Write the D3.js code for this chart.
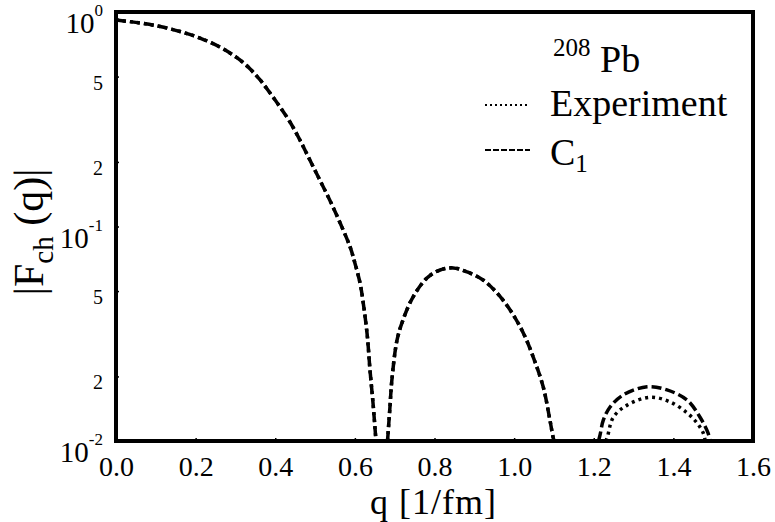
<!DOCTYPE html>
<html>
<head>
<meta charset="utf-8">
<script src="https://cdn.jsdelivr.net/npm/d3@7"></script>
<style>
  body { margin: 0; background: #fff; }
  svg { display: block; }
  svg text {
    font-family: "Liberation Serif", "DejaVu Serif", "Times New Roman", Times, serif !important;
    fill: #000;
  }
</style>
</head>
<body>
<svg id="chart" width="775" height="522"></svg>
<script>
// Charge form factor |F_ch(q)| of 208Pb: experiment vs. C1 calculation
const xTicks = [0.0, 0.2, 0.4, 0.6, 0.8, 1.0, 1.2, 1.4, 1.6];
const xTickLabels = ["0.0", "0.2", "0.4", "0.6", "0.8", "1.0", "1.2", "1.4", "1.6"];
const yDecades = [0.01, 0.1, 1];
const yDecadeExponents = ["-2", "-1", "0"];
const yMinorTicks = [0.02, 0.05, 0.2, 0.5];
const yMinorLabels = ["2", "5", "2", "5"];

// C1 model; null marks the diffraction minima (below the plotted range)
const qC1 = [0.000, 0.060, 0.111, 0.161, 0.211, 0.261, 0.286, 0.312, 0.337, 0.362, 0.387, 0.412, 0.437, 0.462, 0.487,
             0.512, 0.538, 0.563, 0.588, 0.600, 0.613, 0.620, 0.631, 0.638, 0.646, 0.653,
             0.667,
             0.682, 0.688, 0.693, 0.706, 0.721, 0.746, 0.781, 0.814, 0.847, 0.882, 0.922, 0.957, 0.990, 1.023, 1.048, 1.073, 1.090, 1.098, 1.101,
             1.155,
             1.212, 1.216, 1.224, 1.241, 1.274, 1.334, 1.384, 1.435, 1.467, 1.487, 1.492];
const fC1 = [0.918, 0.889, 0.856, 0.811, 0.756, 0.687, 0.644, 0.597, 0.542, 0.482, 0.419, 0.361, 0.307, 0.253, 0.204,
             0.1647, 0.1315, 0.1038, 0.0803, 0.0676, 0.0545, 0.0454, 0.0312, 0.0214, 0.0147, 0.0100,
             null,
             0.0100, 0.0143, 0.0193, 0.0296, 0.0367, 0.0469, 0.0575, 0.0627, 0.0641, 0.0614, 0.0563, 0.0490, 0.0408, 0.0319, 0.0246, 0.0179, 0.0125, 0.0104, 0.0100,
             null,
             0.0100, 0.0107, 0.0125, 0.0144, 0.0164, 0.0179, 0.0173, 0.0155, 0.0129, 0.0109, 0.0100];

// Experimental form factor
const qExp = [0.000, 0.060, 0.111, 0.161, 0.211, 0.261, 0.286, 0.312, 0.337, 0.362, 0.387, 0.412, 0.437, 0.462, 0.487,
              0.512, 0.538, 0.563, 0.588, 0.600, 0.613, 0.620, 0.631, 0.638, 0.646, 0.653,
              0.667,
              0.682, 0.688, 0.693, 0.706, 0.721, 0.746, 0.781, 0.814, 0.847, 0.882, 0.922, 0.957, 0.990, 1.023, 1.048, 1.073, 1.090, 1.098, 1.101,
              1.165,
              1.230, 1.234, 1.249, 1.284, 1.342, 1.392, 1.435, 1.460, 1.475, 1.480];
const fExp = [0.918, 0.889, 0.856, 0.811, 0.756, 0.687, 0.644, 0.597, 0.542, 0.482, 0.419, 0.361, 0.307, 0.253, 0.204,
              0.1647, 0.1315, 0.1038, 0.0803, 0.0676, 0.0545, 0.0454, 0.0312, 0.0214, 0.0147, 0.0100,
              null,
              0.0100, 0.0143, 0.0193, 0.0296, 0.0367, 0.0469, 0.0575, 0.0627, 0.0641, 0.0614, 0.0563, 0.0490, 0.0408, 0.0319, 0.0246, 0.0179, 0.0125, 0.0104, 0.0100,
              null,
              0.0100, 0.0104, 0.0129, 0.0147, 0.0160, 0.0152, 0.0135, 0.0121, 0.0109, 0.0100];

const svg = d3.select("#chart");
const plot = { left: 116, top: 12, right: 753, bottom: 441 };

const x = d3.scaleLinear().domain([0, 1.6]).range([plot.left, plot.right]);
const y = d3.scaleLog().domain([0.01, 1]).range([plot.bottom, plot.top]);

svg.append("defs").append("clipPath").attr("id", "plot-clip")
  .append("rect")
  .attr("x", plot.left).attr("y", plot.top)
  .attr("width", plot.right - plot.left).attr("height", plot.bottom - plot.top);

const line = d3.line()
  .defined(d => d[1] !== null)
  .x(d => x(d[0]))
  .y(d => y(d[1]))
  .curve(d3.curveCatmullRom.alpha(0.5));

const curves = svg.append("g").attr("clip-path", "url(#plot-clip)");

curves.append("path")
  .datum(d3.zip(qExp, fExp))
  .attr("d", line)
  .attr("fill", "none")
  .attr("stroke", "#000")
  .attr("stroke-width", 3.5)
  .attr("stroke-dasharray", "3,4");

curves.append("path")
  .datum(d3.zip(qC1, fC1))
  .attr("d", line)
  .attr("fill", "none")
  .attr("stroke", "#000")
  .attr("stroke-width", 3.5)
  .attr("stroke-dasharray", "10,4");

// x axis
const xAxis = svg.append("g")
  .attr("transform", `translate(0,${plot.bottom})`)
  .call(d3.axisBottom(x)
    .tickValues(xTicks)
    .tickFormat((d, i) => xTickLabels[i])
    .tickSizeInner(-3)
    .tickSizeOuter(0)
    .tickPadding(15));
xAxis.attr("font-family", null);
xAxis.select(".domain").remove();
xAxis.selectAll(".tick line").attr("stroke", "#000").attr("stroke-width", 1.5);
xAxis.selectAll(".tick text")
  .attr("font-size", 28)
  .attr("fill", "#000");

// y axis marks
const yAxis = svg.append("g")
  .attr("transform", `translate(${plot.left},0)`)
  .call(d3.axisLeft(y)
    .tickValues(yDecades.concat(yMinorTicks))
    .tickFormat("")
    .tickSizeInner(-3)
    .tickSizeOuter(0));
yAxis.select(".domain").remove();
yAxis.selectAll(".tick line").attr("stroke", "#000").attr("stroke-width", 1.5);

// y decade labels 10^n
const labelRight = 103;
yDecades.forEach((v, i) => {
  const t = svg.append("text")
    .attr("x", labelRight)
    .attr("y", y(v) + 21)
    .attr("text-anchor", "end")
    .attr("font-size", 29);
  t.append("tspan").text("10");
  t.append("tspan").attr("dy", -17).attr("font-size", 17).text(yDecadeExponents[i]);
});

// y minor labels
yMinorTicks.forEach((v, i) => {
  svg.append("text")
    .attr("x", labelRight)
    .attr("y", y(v) + 13)
    .attr("text-anchor", "end")
    .attr("font-size", 20)
    .text(yMinorLabels[i]);
});

// frame
svg.append("rect")
  .attr("x", plot.left).attr("y", plot.top)
  .attr("width", plot.right - plot.left).attr("height", plot.bottom - plot.top)
  .attr("fill", "none")
  .attr("stroke", "#000")
  .attr("stroke-width", 4);

// axis titles
svg.append("text")
  .attr("x", 370)
  .attr("y", 514)
  .attr("font-size", 36)
  .attr("letter-spacing", 1)
  .text("q [1/fm]");

const yTitle = svg.append("text")
  .attr("transform", "translate(43,232) rotate(-90)")
  .attr("text-anchor", "middle")
  .attr("font-size", 42);
yTitle.append("tspan").text("|F");
yTitle.append("tspan").attr("dy", 10).attr("font-size", 29).text("ch");
yTitle.append("tspan").attr("dy", -10).text(" (q)|");

// legend
const legend = svg.append("g");
const nuc = legend.append("text").attr("x", 553).attr("y", 72).attr("font-size", 38);
nuc.append("tspan").attr("dy", -16).attr("font-size", 25).text("208");
nuc.append("tspan").attr("dy", 16).text(" Pb");

legend.append("line")
  .attr("x1", 485).attr("x2", 530).attr("y1", 105).attr("y2", 105)
  .attr("stroke", "#000").attr("stroke-width", 2).attr("stroke-dasharray", "2,3");
legend.append("text").attr("x", 550).attr("y", 116).attr("font-size", 38).text("Experiment");

legend.append("line")
  .attr("x1", 485).attr("x2", 530).attr("y1", 150).attr("y2", 150)
  .attr("stroke", "#000").attr("stroke-width", 2).attr("stroke-dasharray", "6,2");
const c1 = legend.append("text").attr("x", 550).attr("y", 165).attr("font-size", 38);
c1.append("tspan").text("C");
c1.append("tspan").attr("dy", 7).attr("font-size", 25).text("1");
</script>
</body>
</html>
